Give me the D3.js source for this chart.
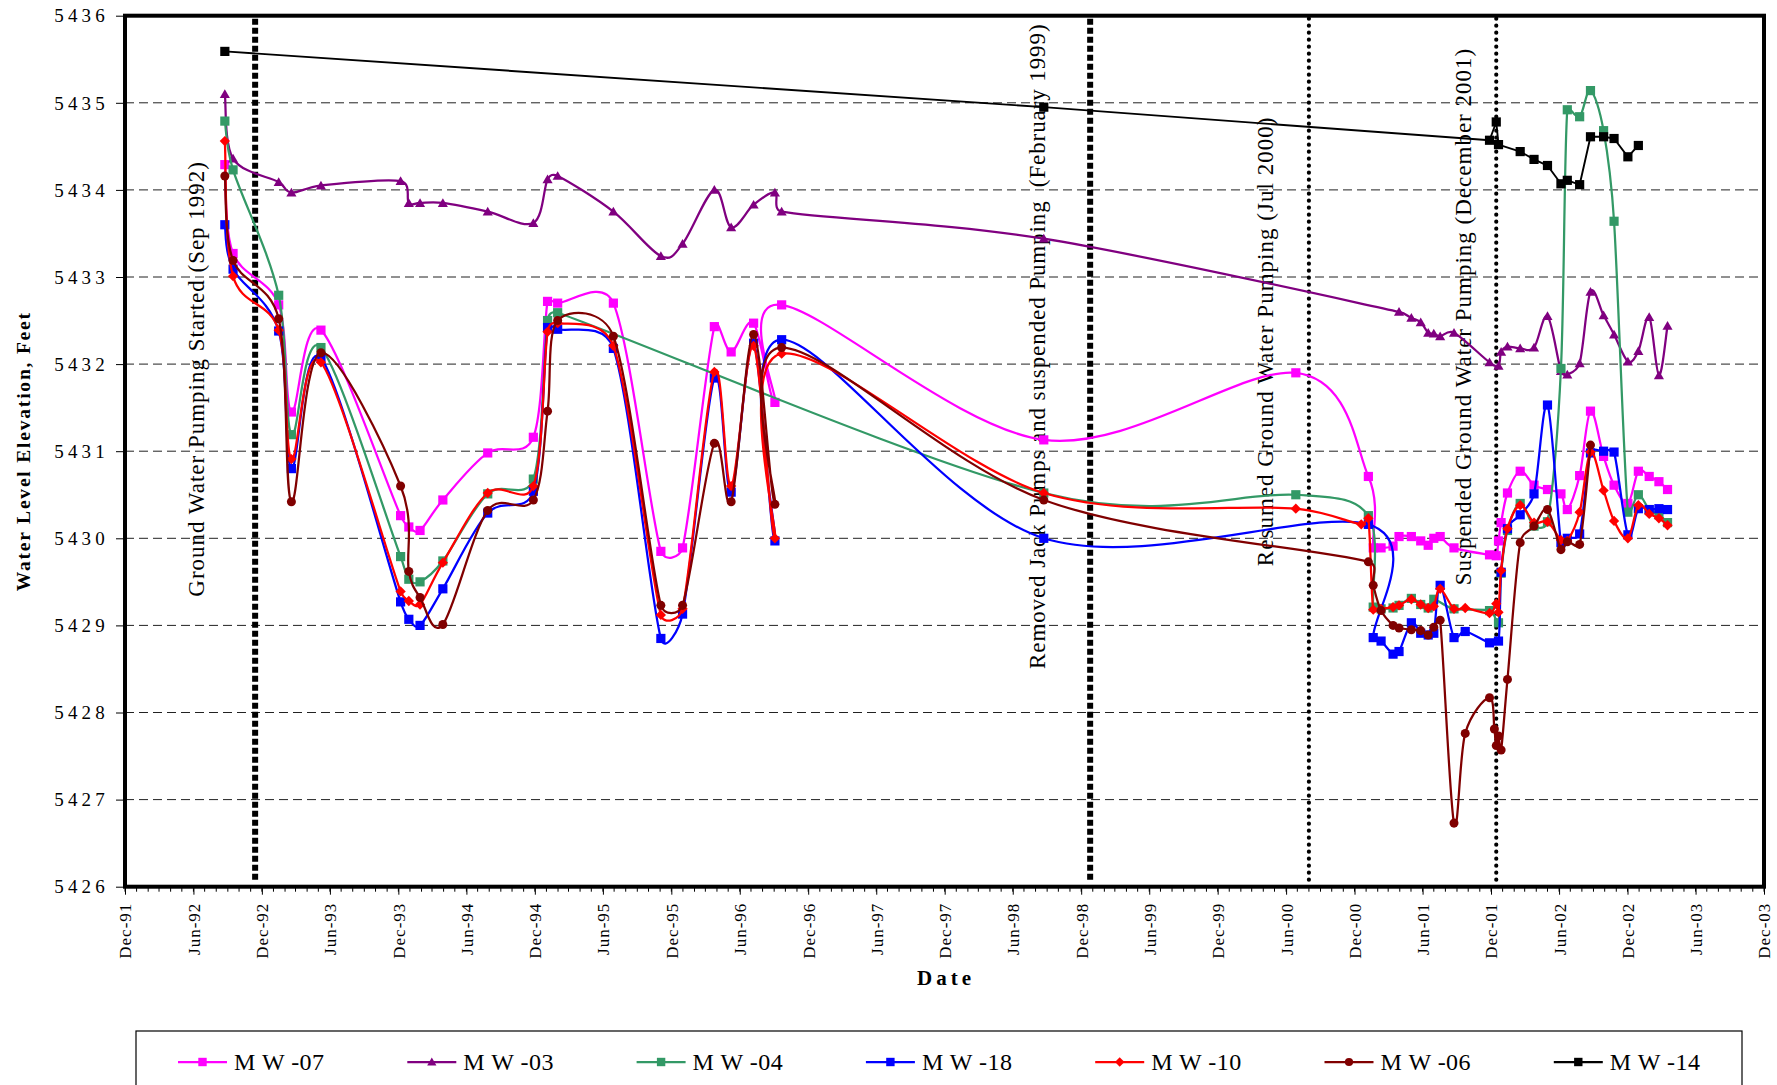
<!DOCTYPE html>
<html>
<head>
<meta charset="utf-8">
<script src="https://cdn.jsdelivr.net/npm/d3@7"></script>
<style>
  html, body { margin: 0; padding: 0; background: #fff; }
  svg { display: block; font-family: "Liberation Serif", "Times New Roman", serif; }
</style>
</head>
<body>
<svg id="chart" width="1777" height="1085"></svg>
<script>
"use strict";

// sampling dates shared by the wells (null = not measured)
var sampleDates = [
    "1992-08-24", "1992-09-15", "1993-01-15", "1993-02-18", "1993-05-08",
    "1993-12-07", "1993-12-29", "1994-01-28", "1994-03-30", "1994-07-28",
    "1994-11-27", "1995-01-04", "1995-01-31", "1995-06-29", "1995-11-03",
    "1995-12-31", "1996-03-25", "1996-05-09", "1996-07-08", "1996-09-03",
    "1996-09-21", "1998-08-23", "2000-06-27",
    "2000-12-19", "2001-01-07", "2001-01-20", "2001-02-10", "2001-03-14",
    "2001-03-30", "2001-05-02", "2001-05-27", "2001-06-16", "2001-07-01",
    "2001-07-18", "2001-08-24", "2001-09-23", "2001-11-27", "2001-12-10",
    "2001-12-15", "2001-12-21", "2001-12-28", "2002-01-14", "2002-02-17",
    "2002-03-26", "2002-05-01", "2002-06-06", "2002-06-23", "2002-07-26",
    "2002-08-24", "2002-09-28", "2002-10-26", "2002-12-02", "2002-12-30",
    "2003-01-28", "2003-02-23", "2003-03-18"
];

var n = null;

var mw07 = [
    5434.29, 5433.27, 5432.68, 5431.45, 5432.39, 5430.26, 5430.13, 5430.09, 5430.44, 5430.98,
    5431.16, 5432.72, 5432.70, 5432.70, 5429.85, 5429.89, 5432.43, 5432.14, 5432.47, 5431.56,
    5432.68, 5431.13, 5431.90,
    n, 5430.71, 5429.89, 5429.89, 5429.91, 5430.02, 5430.02, 5429.97, 5429.92, 5430.00,
    5430.02, 5429.89, n, 5429.81, n, 5429.80, 5429.97, 5430.18, 5430.52, 5430.77,
    5430.61, 5430.56, 5430.51, 5430.33, 5430.72, 5431.46, 5430.94, 5430.61, 5430.40, 5430.77,
    5430.71, 5430.65, 5430.56
];

var mw03 = [
    5435.10, 5434.36, 5434.09, 5433.97, 5434.05, 5434.10, 5433.85, 5433.85, 5433.85, 5433.75,
    5433.62, 5434.12, 5434.16, 5433.75, 5433.24, 5433.38, 5434.00, 5433.57, 5433.83, 5433.97,
    5433.75, 5433.44, n,
    n, n, n, n, n, 5432.60, 5432.53, 5432.48, 5432.36, 5432.35,
    5432.32, 5432.36, n, 5432.02, n, n, 5431.98, 5432.14, 5432.20, 5432.18,
    5432.19, 5432.55, 5431.92, 5431.88, 5432.01, 5432.83, 5432.56, 5432.34, 5432.03, 5432.15,
    5432.54, 5431.87, 5432.44
];

var mw04 = [
    5434.79, 5434.23, 5432.79, 5431.19, 5432.19, 5429.79, 5429.53, 5429.50, 5429.74, 5430.51,
    5430.68, 5432.50, 5432.59, n, n, n, n, n, n, n,
    n, 5430.52, 5430.50,
    n, 5430.26, 5429.21, 5429.19, 5429.20, 5429.23, 5429.31, 5429.24, 5429.20, 5429.30,
    n, 5429.19, n, 5429.17, n, n, 5429.03, 5429.60, 5430.09, 5430.40,
    5430.14, 5430.19, 5431.95, 5434.92, 5434.84, 5435.14, 5434.68, 5433.64, 5430.30, 5430.50,
    5430.33, 5430.27, 5430.18
];

var mw18 = [
    5433.60, 5433.09, 5432.38, 5430.80, 5432.07, 5429.27, 5429.07, 5429.00, 5429.42, 5430.29,
    5430.54, 5432.42, 5432.40, 5432.18, 5428.85, 5429.13, 5431.84, 5430.53, 5432.24, 5429.97,
    5432.28, 5430.00, n,
    n, 5430.16, 5428.86, 5428.82, 5428.67, 5428.70, 5429.03, 5428.91, 5428.89, 5428.91,
    5429.46, 5428.86, 5428.93, 5428.80, n, n, 5428.82, 5429.61, 5430.11, 5430.27,
    5430.51, 5431.53, 5429.95, 5430.00, 5430.05, 5430.98, 5431.00, 5430.99, 5430.04, 5430.34,
    5430.33, 5430.34, 5430.33
];

var mw10 = [
    5434.56, 5433.01, 5432.39, 5430.91, 5432.02, 5429.39, 5429.28, 5429.24, 5429.72, 5430.52,
    5430.60, 5432.37, 5432.47, 5432.21, 5429.12, 5429.19, 5431.91, 5430.60, 5432.21, 5430.00,
    5432.12, 5430.52, 5430.34,
    5430.16, 5430.23, 5429.18, 5429.19, 5429.21, 5429.23, 5429.30, 5429.24, 5429.20, 5429.22,
    5429.42, 5429.19, 5429.20, 5429.14, n, 5429.25, 5429.15, 5429.63, 5430.11, 5430.38,
    5430.18, 5430.19, 5429.98, 5429.97, 5430.30, 5430.99, 5430.55, 5430.20, 5430.00, 5430.38,
    5430.28, 5430.23, 5430.15
];

var mw06 = [
    5434.16, 5433.19, 5432.52, 5430.42, 5432.13, 5430.60, 5429.62, 5429.32, 5429.01, 5430.32,
    5430.44, 5431.46, 5432.50, 5432.32, 5429.23, 5429.23, 5431.09, 5430.42, 5432.34, 5430.39,
    5432.19, 5430.44, n,
    n, 5429.73, 5429.46, 5429.17, 5429.00, 5428.97, 5428.95, 5428.94, 5428.89, 5428.98,
    5429.06, 5426.73, 5427.76, 5428.17, 5427.81, 5427.62, 5427.73, 5427.57, 5428.38, 5429.95,
    5430.14, 5430.33, 5429.87, 5429.96, 5429.93, 5431.07, n, n, n, n,
    n, n, n
];

var mw14 = [
    5435.59, n, n, n, n, n, n, n, n, n,
    n, n, n, n, n, n, n, n, n, n,
    n, 5434.95, n,
    n, n, n, n, n, n, n, n, n, n,
    n, n, n, 5434.57, n, 5434.78, 5434.52, n, n, 5434.44,
    5434.35, 5434.28, 5434.07, 5434.11, 5434.06, 5434.61, 5434.61, 5434.59, 5434.38, 5434.51,
    n, n, n
];

var wellNames = ["M W -07", "M W -03", "M W -04", "M W -18", "M W -10", "M W -06", "M W -14"];
var yTicks = [5426, 5427, 5428, 5429, 5430, 5431, 5432, 5433, 5434, 5435, 5436];

// events marked with dotted vertical lines
var eventDates = ["1992-11-13", "1998-12-25", "2000-08-01", "2001-12-15"];
var eventLabels = [
    "Ground Water Pumping Started (Sep 1992)",
    "Removed Jack Pumps and suspended Pumping  (February 1999)",
    "Resumed Ground Water Pumping (Jul 2000)",
    "Suspended Ground Water Pumping (December 2001)"
];

// styling per well
var wellStyles = [
    { color: "#FF00FF", marker: "square", smooth: true },
    { color: "#800080", marker: "triangle", smooth: true },
    { color: "#339966", marker: "square", smooth: true },
    { color: "#0000FF", marker: "square", smooth: true },
    { color: "#FF0000", marker: "diamond", smooth: true },
    { color: "#800000", marker: "circle", smooth: true },
    { color: "#000000", marker: "square", smooth: false }
];
var wellValues = [mw07, mw03, mw04, mw18, mw10, mw06, mw14];

// event line styles and label placement (label ends in feet, x offset in px)
var eventStyles = [
    { dots: "square", dx: -59, top: 5434.32, bottom: 5429.33 },
    { dots: "square", dx: -53, top: 5435.90, bottom: 5428.50 },
    { dots: "round", dx: -44, top: 5434.83, bottom: 5429.68 },
    { dots: "round", dx: -33, top: 5435.62, bottom: 5429.46 }
];

var serif = "Liberation Serif, Times New Roman, serif";
var parseDate = d3.timeParse("%Y-%m-%d");

var svg = d3.select("#chart");
svg.append("rect").attr("width", 1777).attr("height", 1085).attr("fill", "#fff");

var plot = { left: 125, right: 1764, top: 15.7, bottom: 886.7 };

var xStart = new Date(1991, 11, 1);
var xEnd = new Date(2003, 11, 1);

var x = d3.scaleTime()
    .domain([xStart, xEnd])
    .range([plot.left, plot.right]);

var y = d3.scaleLinear()
    .domain([5426, 5436])
    .range([plot.bottom, plot.top]);

// smoothed line like the spreadsheet one: bezier with 1/6 tangents,
// each control arm kept within half of its segment length
function smoothPath(pts) {
    var d = "M" + pts[0][0] + "," + pts[0][1];
    var last = pts.length - 1;
    function arm(a, b, seg) {
        var tx = (b[0] - a[0]) / 6, ty = (b[1] - a[1]) / 6;
        var len = Math.sqrt(tx * tx + ty * ty);
        var cap = seg * 0.5;
        if (len > cap && len > 0) { tx *= cap / len; ty *= cap / len; }
        return [tx, ty];
    }
    for (var i = 0; i < last; i++) {
        var p0 = pts[Math.max(i - 1, 0)];
        var p1 = pts[i];
        var p2 = pts[i + 1];
        var p3 = pts[Math.min(i + 2, last)];
        var seg = Math.sqrt(Math.pow(p2[0] - p1[0], 2) + Math.pow(p2[1] - p1[1], 2));
        var a1 = arm(p0, p2, seg);
        var a2 = arm(p1, p3, seg);
        d += "C" + (p1[0] + a1[0]) + "," + (p1[1] + a1[1]) + "," +
            (p2[0] - a2[0]) + "," + (p2[1] - a2[1]) + "," + p2[0] + "," + p2[1];
    }
    return d;
}

// horizontal dashed gridlines
svg.append("g")
    .selectAll("line")
    .data(yTicks.slice(1, -1))
    .enter()
    .append("line")
    .attr("x1", plot.left)
    .attr("x2", plot.right)
    .attr("y1", function (d) { return y(d); })
    .attr("y2", function (d) { return y(d); })
    .attr("stroke", "#222")
    .attr("stroke-width", 1)
    .attr("stroke-dasharray", "9,5");

// event lines
var events = eventDates.map(function (d, i) {
    return { date: parseDate(d), label: eventLabels[i], style: eventStyles[i] };
});

svg.append("g")
    .selectAll("line")
    .data(events)
    .enter()
    .append("line")
    .attr("x1", function (d) { return x(d.date); })
    .attr("x2", function (d) { return x(d.date); })
    .attr("y1", plot.top + 3)
    .attr("y2", plot.bottom - 4)
    .attr("stroke", "#000")
    .attr("stroke-width", function (d) { return d.style.dots === "square" ? 6 : 4.2; })
    .attr("stroke-linecap", function (d) { return d.style.dots === "square" ? "butt" : "round"; })
    .attr("stroke-dasharray", function (d) { return d.style.dots === "square" ? "6,3" : "0,7"; });

// event labels, rotated
svg.append("g")
    .selectAll("text")
    .data(events)
    .enter()
    .append("text")
    .attr("transform", function (d) {
        return "translate(" + (x(d.date) + d.style.dx) + "," + y(d.style.bottom) + ") rotate(-90)";
    })
    .attr("dy", "0.35em")
    .attr("text-anchor", "start")
    .attr("font-family", serif)
    .attr("font-size", "23px")
    .attr("fill", "#000")
    .style("white-space", "pre")
    .attr("textLength", function (d) { return y(d.style.bottom) - y(d.style.top); })
    .attr("lengthAdjust", "spacing")
    .text(function (d) { return d.label; });

// marker shapes
function markerPath(shape, s) {
    if (shape === "square") {
        return "M" + (-s) + "," + (-s) + "h" + (2 * s) + "v" + (2 * s) + "h" + (-2 * s) + "Z";
    }
    if (shape === "triangle") {
        return "M0," + (-s * 1.05) + "L" + (s * 1.1) + "," + (s * 0.85) + "L" + (-s * 1.1) + "," + (s * 0.85) + "Z";
    }
    if (shape === "diamond") {
        var t = s * 1.12;
        return "M0," + (-t) + "L" + t + ",0L0," + t + "L" + (-t) + ",0Z";
    }
    // circle
    return d3.arc()({ innerRadius: 0, outerRadius: s * 0.98, startAngle: 0, endAngle: 2 * Math.PI });
}

// series
var wells = wellValues.map(function (vals, i) {
    var pts = [];
    vals.forEach(function (v, j) {
        if (v !== null) { pts.push({ date: parseDate(sampleDates[j]), value: v }); }
    });
    return { name: wellNames[i], points: pts, style: wellStyles[i] };
});

var straightLine = d3.line()
    .x(function (p) { return x(p.date); })
    .y(function (p) { return y(p.value); });

var series = svg.append("g")
    .selectAll("g")
    .data(wells)
    .enter()
    .append("g");

series.append("path")
    .attr("fill", "none")
    .attr("stroke", function (d) { return d.style.color; })
    .attr("stroke-width", function (d) { return d.style.smooth ? 2.25 : 1.9; })
    .attr("stroke-linejoin", "round")
    .attr("d", function (d) {
        if (!d.style.smooth) { return straightLine(d.points); }
        return smoothPath(d.points.map(function (p) { return [x(p.date), y(p.value)]; }));
    });

series.each(function (d) {
    d3.select(this).selectAll("path.mk")
        .data(d.points)
        .enter()
        .append("path")
        .attr("class", "mk")
        .attr("transform", function (p) { return "translate(" + x(p.date) + "," + y(p.value) + ")"; })
        .attr("d", markerPath(d.style.marker, 4.6))
        .attr("fill", d.style.color);
});

// plot frame
svg.append("rect")
    .attr("x", plot.left)
    .attr("y", plot.top)
    .attr("width", plot.right - plot.left)
    .attr("height", plot.bottom - plot.top)
    .attr("fill", "none")
    .attr("stroke", "#000")
    .attr("stroke-width", 4);

// y axis
var yAxis = svg.append("g")
    .attr("transform", "translate(" + (plot.left - 1) + ",0)")
    .call(d3.axisLeft(y).tickValues(yTicks).tickSize(8).tickFormat(d3.format("d")))
    .attr("font-family", serif)
    .attr("font-size", 19);
yAxis.select(".domain").remove();
yAxis.selectAll("line").attr("stroke", "#000");
yAxis.selectAll("text")
    .attr("x", -15)
    .attr("dy", "0.33em")
    .attr("letter-spacing", "4.2px")
    .attr("fill", "#000");

// x axis: major ticks every 6 months, minor ticks monthly
var majorTicks = d3.timeMonth.range(xStart, d3.timeDay.offset(xEnd, 1), 6);
var minorTicks = d3.timeMonth.range(xStart, d3.timeDay.offset(xEnd, 1));

svg.append("g")
    .selectAll("line")
    .data(minorTicks)
    .enter()
    .append("line")
    .attr("x1", function (d) { return x(d); })
    .attr("x2", function (d) { return x(d); })
    .attr("y1", plot.bottom + 1)
    .attr("y2", plot.bottom + 5)
    .attr("stroke", "#000")
    .attr("stroke-width", 1);

var xAxis = svg.append("g")
    .attr("transform", "translate(0," + (plot.bottom + 1) + ")")
    .call(d3.axisBottom(x).tickValues(majorTicks).tickSize(7).tickFormat(d3.timeFormat("%b-%y")))
    .attr("font-family", serif)
    .attr("font-size", 17);
xAxis.select(".domain").remove();
xAxis.selectAll("line").attr("stroke", "#000");
xAxis.selectAll("text")
    .attr("transform", "rotate(-90)")
    .attr("text-anchor", "end")
    .attr("x", -15)
    .attr("y", 0)
    .attr("dy", "0.35em")
    .attr("letter-spacing", "1px")
    .attr("fill", "#000");

// axis titles
svg.append("text")
    .attr("transform", "translate(23," + ((plot.top + plot.bottom) / 2) + ") rotate(-90)")
    .attr("text-anchor", "middle")
    .attr("dy", "0.35em")
    .attr("font-family", serif)
    .attr("font-size", "19.5px")
    .attr("font-weight", "bold")
    .attr("letter-spacing", "1.8px")
    .text("Water Level Elevation, Feet");

svg.append("text")
    .attr("x", 946)
    .attr("y", 978)
    .attr("text-anchor", "middle")
    .attr("dy", "0.35em")
    .attr("font-family", serif)
    .attr("font-size", "21px")
    .attr("font-weight", "bold")
    .attr("letter-spacing", "4px")
    .text("Date");

// legend
var legend = svg.append("g");
legend.append("rect")
    .attr("x", 136)
    .attr("y", 1031)
    .attr("width", 1606)
    .attr("height", 80)
    .attr("fill", "#fff")
    .attr("stroke", "#000")
    .attr("stroke-width", 1.2);

var legendItems = legend.selectAll("g.item")
    .data(wells)
    .enter()
    .append("g")
    .attr("class", "item")
    .attr("transform", function (d, i) { return "translate(" + (178 + i * 229.3) + ",1062)"; });

legendItems.append("line")
    .attr("x1", 0)
    .attr("x2", 49)
    .attr("stroke", function (d) { return d.style.color; })
    .attr("stroke-width", 2.25);

legendItems.append("path")
    .attr("transform", "translate(24.5,0)")
    .attr("d", function (d) { return markerPath(d.style.marker, 4.2); })
    .attr("fill", function (d) { return d.style.color; });

legendItems.append("text")
    .attr("x", 56)
    .attr("dy", "0.35em")
    .attr("font-family", serif)
    .attr("font-size", "24px")
    .attr("letter-spacing", "0.5px")
    .attr("fill", "#000")
    .style("white-space", "pre")
    .text(function (d) { return d.name; });
</script>
</body>
</html>
